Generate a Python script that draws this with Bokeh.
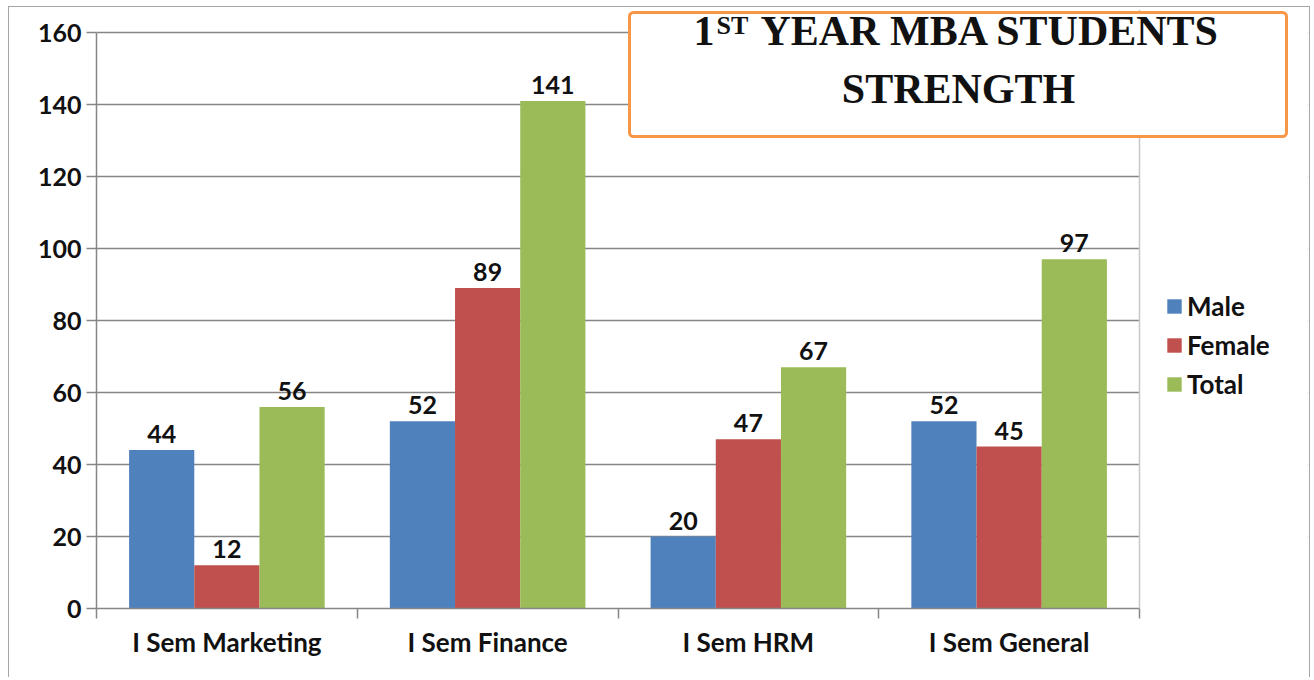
from bokeh.plotting import figure
from bokeh.models import (Range1d, FixedTicker, Legend, LegendItem, Label,
                          BoxAnnotation, Span, ColumnDataSource)
from bokeh.core.properties import value
from bokeh.embed import file_html
from bokeh.resources import INLINE

categories = ["I Sem Marketing", "I Sem Finance", "I Sem HRM", "I Sem General"]
series_names = ["Male", "Female", "Total"]
male = [44, 52, 20, 52]
female = [12, 89, 47, 45]
total = [56, 141, 67, 97]
colors = ["#4f81bd", "#c0504d", "#9bbb59"]
y_ticks = [0, 20, 40, 60, 80, 100, 120, 140, 160]

FONT = "Lato"
GRID = "#868686"
TXT = "#111111"

# layout geometry (pixels)
W, H = 1302, 671
BL, BT, BR, BB = 87, 2, 4, 70
FW, FH = W - BL - BR, H - BT - BB
CAT_PX = 260.75          # pixel width of one category slot
Y_PX = 3.6               # pixels per y unit
n = len(categories)
y_max = y_ticks[-1]

p = figure(width=W, height=H, output_backend="svg", toolbar_location=None,
           x_range=Range1d(0, FW / CAT_PX), y_range=Range1d(0, FH / Y_PX),
           min_border_left=BL, min_border_top=BT, min_border_right=BR,
           min_border_bottom=BB)
p.styles = {"margin-left": "8px", "margin-top": "6px",
            "border-top": "1.5px solid #a6a6a6",
            "border-left": "1.5px solid #a6a6a6",
            "border-right": "1.5px solid #a6a6a6",
            "border-bottom": "0px solid white"}
p.background_fill_color = "white"
p.border_fill_color = "white"
p.outline_line_color = None

# axes
xa = p.xaxis[0]
xa.bounds = (0, n)
xa.ticker = FixedTicker(ticks=[i + 0.5 for i in range(n)],
                        minor_ticks=list(range(n + 1)))
xa.major_label_overrides = {i + 0.5: c for i, c in enumerate(categories)}
xa.major_tick_line_color = None
xa.major_tick_out = 10
xa.major_tick_in = 0
xa.minor_tick_out = 10
xa.minor_tick_in = 0
xa.minor_tick_line_color = GRID
xa.minor_tick_line_width = 1.5
xa.axis_line_color = GRID
xa.axis_line_width = 1.5
xa.major_label_standoff = 7
xa.major_label_text_font = FONT
xa.major_label_text_font_style = "bold"
xa.major_label_text_font_size = "26px"
xa.major_label_text_color = TXT

ya = p.yaxis[0]
ya.bounds = (0, y_max)
ya.ticker = FixedTicker(ticks=y_ticks, minor_ticks=[])
ya.major_tick_out = 10
ya.major_tick_in = 0
ya.major_tick_line_color = GRID
ya.major_tick_line_width = 1.5
ya.axis_line_color = GRID
ya.axis_line_width = 1.5
ya.major_label_standoff = 5
ya.major_label_text_font = FONT
ya.major_label_text_font_style = "bold"
ya.major_label_text_font_size = "25px"
ya.major_label_text_color = TXT

p.xgrid.grid_line_color = None
p.ygrid.ticker = FixedTicker(ticks=y_ticks)
p.ygrid.grid_line_color = GRID
p.ygrid.grid_line_width = 1.5

# white mask: gridlines stop at the plot area's right edge
mask = BoxAnnotation(left=n, fill_color="white", fill_alpha=1.0,
                     line_color=None, level="underlay")
p.add_layout(mask)
# light plot-area border on the right
p.add_layout(Span(location=n, dimension="height", line_color="#c8c8c8",
                  line_width=1.5))

# bars
bar_w = 0.25
items = []
for k, (name, vals, col) in enumerate(zip(series_names, [male, female, total], colors)):
    xs = [i + 0.125 + bar_w * (k + 0.5) for i in range(n)]
    src = ColumnDataSource(dict(x=xs, top=vals, lab=[str(v) for v in vals]))
    r = p.vbar(x="x", top="top", width=bar_w, bottom=0, source=src,
               fill_color=col, line_color=None)
    p.text(x="x", y="top", text="lab", source=src, text_align="center",
           text_baseline="alphabetic", y_offset=-16, text_font=value(FONT),
           text_font_style="bold", text_font_size="25px", text_color=TXT)
    items.append(LegendItem(label=name, renderers=[r]))

legend = Legend(items=items, location=(1069, 208), orientation="vertical",
                glyph_width=18, glyph_height=18, label_standoff=4, spacing=7,
                padding=0, margin=0, border_line_color=None,
                background_fill_alpha=0,
                label_text_font=FONT, label_text_font_style="bold",
                label_text_font_size="26px", label_text_color=TXT)
p.add_layout(legend, "center")

# title box
box = BoxAnnotation(left=533, right=1190, top=596, bottom=472,
                    left_units="screen", right_units="screen",
                    top_units="screen", bottom_units="screen",
                    fill_color="white", fill_alpha=1.0,
                    line_color="#f79646", line_width=3, line_alpha=1.0,
                    border_radius=4)
p.add_layout(box)

TF = "Liberation Serif"
def title_label(x, y, text, size, align="left"):
    return Label(x=x, y=y, x_units="screen", y_units="screen", text=text,
                 text_font=TF, text_font_style="bold", text_font_size=size,
                 text_align=align, text_baseline="alphabetic", text_color=TXT)

for t in (title_label(597, 578, "1", "42px"),
          title_label(620, 583, "ST", "26px"),
          title_label(664, 578, "YEAR MBA STUDENTS", "42px"),
          title_label(862, 520, "STRENGTH", "42px", "center")):
    p.add_layout(t)

open("out.html", "w").write(file_html(p, INLINE))
